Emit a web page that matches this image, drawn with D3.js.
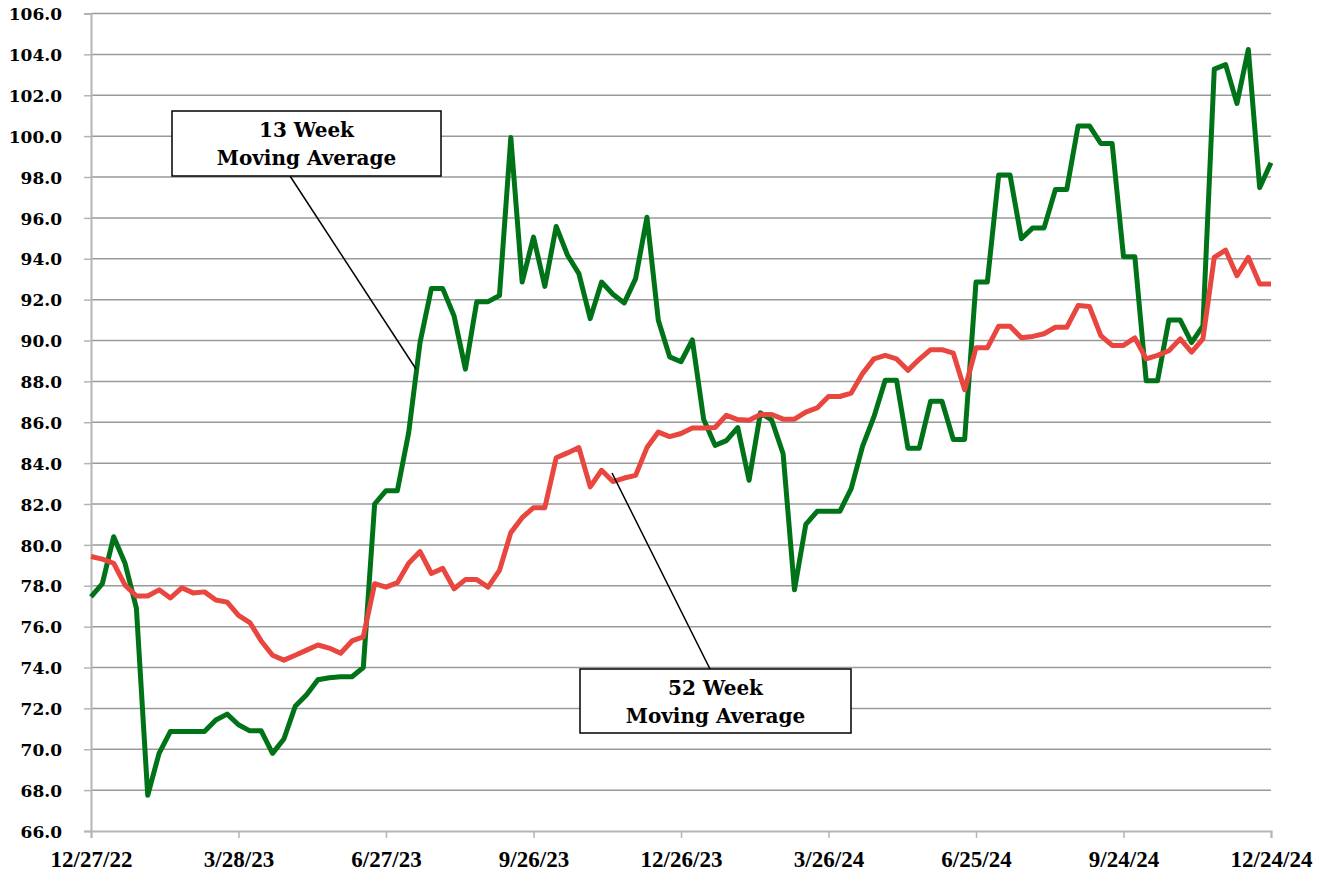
<!DOCTYPE html>
<html>
<head>
<meta charset="utf-8">
<script src="https://cdn.jsdelivr.net/npm/d3@7"></script>
<style>
  body { margin: 0; background: #fff; }
  svg { display: block; }
</style>
</head>
<body>
<svg id="chart" width="1328" height="878"></svg>
<script>
// weekly moving averages, 12/27/22 .. 12/24/24 (105 weeks)
let startDate = new Date(2022, 11, 27)
let weekCount = 105

let avg13 = [
  77.46, 78.1, 80.4, 79.1, 76.9, 67.75, 69.8, 70.87, 70.87, 70.87,
  70.87, 71.43, 71.72, 71.2, 70.9, 70.9, 69.8, 70.5, 72.1, 72.67,
  73.4, 73.5, 73.55, 73.55, 74.0, 82.0, 82.65, 82.65, 85.5, 89.9,
  92.54, 92.54, 91.2, 88.6, 91.9, 91.9, 92.2, 99.93, 92.86, 95.06,
  92.65, 95.58, 94.17, 93.27, 91.07, 92.86, 92.26, 91.84, 93.03, 96.03,
  90.99, 89.2, 88.96, 90.03, 86.13, 84.87, 85.1, 85.74, 83.16, 86.46,
  86.1, 84.46, 77.8, 81.0, 81.64, 81.64, 81.64, 82.75, 84.82, 86.26,
  88.05, 88.05, 84.73, 84.73, 87.03, 87.03, 85.16, 85.16, 92.86, 92.86,
  98.1, 98.1, 94.98, 95.51, 95.51, 97.39, 97.39, 100.5, 100.5, 99.64,
  99.64, 94.1, 94.1, 88.03, 88.03, 91.0, 91.0, 89.9, 90.72, 103.28,
  103.5, 101.6, 104.24, 97.48, 98.7
]

let avg52 = [
  79.43, 79.3, 79.1, 78.03, 77.5, 77.5, 77.8, 77.4, 77.9, 77.65,
  77.7, 77.3, 77.2, 76.55, 76.2, 75.3, 74.6, 74.36, 74.6, 74.85,
  75.1, 74.95, 74.7, 75.3, 75.5, 78.1, 77.93, 78.15, 79.1, 79.67,
  78.6, 78.85, 77.85, 78.3, 78.3, 77.93, 78.75, 80.6, 81.33, 81.82,
  81.82, 84.26, 84.5, 84.76, 82.84, 83.65, 83.1, 83.27, 83.4, 84.76,
  85.52, 85.3, 85.45, 85.72, 85.72, 85.74, 86.34, 86.13, 86.1, 86.38,
  86.38, 86.15, 86.15, 86.5, 86.7, 87.26, 87.26, 87.43, 88.38, 89.1,
  89.27, 89.1, 88.54, 89.08, 89.55, 89.55, 89.38, 87.59, 89.64, 89.64,
  90.7, 90.7, 90.13, 90.2, 90.33, 90.65, 90.65, 91.71, 91.66, 90.24,
  89.76, 89.76, 90.13, 89.1, 89.27, 89.5, 90.08, 89.43, 90.08, 94.07,
  94.42, 93.17, 94.07, 92.77, 92.77
]

let tickLabels = ['12/27/22', '3/28/23', '6/27/23', '9/26/23', '12/26/23', '3/26/24', '6/25/24', '9/24/24', '12/24/24']
let tickEvery = 13

let yMin = 66, yMax = 106, yStep = 2

let dates = d3.range(weekCount).map(i => d3.timeDay.offset(startDate, 7 * i))

let plotLeft = 91, plotRight = 1271, plotTop = 13.5, plotBottom = 831
let svg = d3.select('#chart')

let x = d3.scaleTime()
  .domain([dates[0], dates[dates.length - 1]])
  .range([plotLeft, plotRight])

let y = d3.scaleLinear()
  .domain([yMin, yMax])
  .range([plotBottom, plotTop])

let yTicks = d3.range(yMin, yMax + 0.001, yStep)

// gridlines
svg.append('g')
  .selectAll('line')
  .data(yTicks.filter(v => v > yMin))
  .enter()
  .append('line')
  .attr('x1', plotLeft)
  .attr('x2', plotRight)
  .attr('y1', d => y(d))
  .attr('y2', d => y(d))
  .attr('stroke', '#9a9a9a')
  .attr('stroke-width', 1.5)

// y axis
let yAxis = svg.append('g')
  .attr('transform', `translate(${plotLeft},0)`)
  .call(d3.axisLeft(y).tickValues(yTicks).tickSize(7).tickFormat(d3.format('.1f')))
yAxis.select('.domain').attr('stroke', '#b5b5b5').attr('stroke-width', 2)
yAxis.selectAll('.tick line').attr('stroke', '#b5b5b5').attr('stroke-width', 1.5)
yAxis.selectAll('.tick text')
  .attr('x', -29)
  .attr('dy', '0.36em')
  .attr('fill', '#000')
  .style('font-family', '"DejaVu Serif", serif')
  .style('font-weight', 'bold')
  .style('font-size', '17px')

// x axis
let tickDates = tickLabels.map((t, i) => dates[i * tickEvery])
let xAxis = svg.append('g')
  .attr('transform', `translate(0,${plotBottom})`)
  .call(d3.axisBottom(x).tickValues(tickDates).tickSize(7).tickFormat((d, i) => tickLabels[i]))
xAxis.select('.domain').attr('stroke', '#b5b5b5').attr('stroke-width', 2)
xAxis.selectAll('.tick line').attr('stroke', '#b5b5b5').attr('stroke-width', 1.5)
xAxis.selectAll('.tick text')
  .attr('y', 20)
  .attr('dy', '0.71em')
  .attr('fill', '#000')
  .style('font-family', '"Liberation Serif", serif')
  .style('font-weight', 'bold')
  .style('font-size', '23px')

// lines
let line = d3.line()
  .x((d, i) => x(dates[i]))
  .y(d => y(d))

svg.append('path')
  .datum(avg13)
  .attr('fill', 'none')
  .attr('stroke', '#007318')
  .attr('stroke-width', 5)
  .attr('stroke-linejoin', 'round')
  .attr('d', line)

svg.append('path')
  .datum(avg52)
  .attr('fill', 'none')
  .attr('stroke', '#e8463f')
  .attr('stroke-width', 5)
  .attr('stroke-linejoin', 'round')
  .attr('d', line)

// callouts
let callouts = [
  { lines: ['13 Week', 'Moving Average'], box: [172, 111, 269, 65], from: [290, 176], to: [416, 369] },
  { lines: ['52 Week', 'Moving Average'], box: [580, 669, 271, 64], from: [710, 669], to: [612, 473] }
]

callouts.forEach(c => {
  svg.append('line')
    .attr('x1', c.from[0]).attr('y1', c.from[1])
    .attr('x2', c.to[0]).attr('y2', c.to[1])
    .attr('stroke', '#000')
    .attr('stroke-width', 1.5)
  svg.append('rect')
    .attr('x', c.box[0]).attr('y', c.box[1])
    .attr('width', c.box[2]).attr('height', c.box[3])
    .attr('fill', '#fff')
    .attr('stroke', '#000')
    .attr('stroke-width', 1.5)
  c.lines.forEach((t, j) => {
    svg.append('text')
      .attr('x', c.box[0] + c.box[2] / 2)
      .attr('y', c.box[1] + 26 + j * 28)
      .attr('text-anchor', 'middle')
      .style('font-family', '"DejaVu Serif", serif')
      .style('font-weight', 'bold')
      .style('font-size', '20px')
      .text(t)
  })
})
</script>
</body>
</html>
